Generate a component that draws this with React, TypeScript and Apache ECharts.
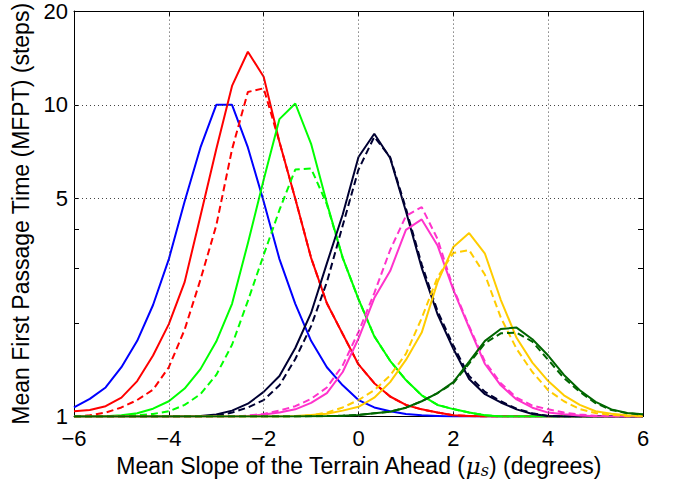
import React, { useEffect, useRef } from "react";
import * as echarts from "echarts";

const xs = [-6, -5.667, -5.333, -5, -4.667, -4.333, -4, -3.667, -3.333, -3, -2.667, -2.333, -2, -1.667, -1.333, -1, -0.667, -0.333, 0, 0.333, 0.667, 1, 1.333, 1.667, 2, 2.333, 2.667, 3, 3.333, 3.667, 4, 4.333, 4.667, 5, 5.333, 5.667, 6];

const blueSolid = [1.07, 1.14, 1.24, 1.44, 1.75, 2.28, 3.2, 4.9, 7.3, 10, 10, 7.3, 4.9, 3.2, 2.3, 1.75, 1.44, 1.26, 1.13, 1.07, 1.04, 1.02, 1.01, 1.005, 1, 1, 1, 1, 1, 1, 1, 1, 1, 1, 1, 1, 1];
const redSolid = [1.04, 1.05, 1.08, 1.15, 1.3, 1.57, 1.98, 2.7, 4.4, 7.2, 11.5, 14.8, 12.3, 7.6, 5.0, 3.23, 2.31, 1.84, 1.47, 1.28, 1.16, 1.09, 1.055, 1.03, 1.01, 1.005, 1, 1, 1, 1, 1, 1, 1, 1, 1, 1, 1];
const redDashed = [1.0, 1.01, 1.03, 1.07, 1.13, 1.22, 1.44, 1.9, 2.75, 4.1, 7.2, 11.0, 11.3, 7.6, 5.0, 3.23, 2.31, 1.84, 1.47, 1.28, 1.16, 1.09, 1.055, 1.03, 1.01, 1.005, 1, 1, 1, 1, 1, 1, 1, 1, 1, 1, 1];
const greenSolid = [1, 1, 1.003, 1.01, 1.025, 1.06, 1.12, 1.23, 1.42, 1.74, 2.3, 3.6, 5.75, 9.0, 10.1, 7.5, 4.84, 3.23, 2.38, 1.81, 1.51, 1.31, 1.17, 1.09, 1.057, 1.03, 1.01, 1, 1, 1, 1, 1, 1, 1, 1, 1, 1];
const greenDashed = [1, 1, 1, 1.005, 1.01, 1.02, 1.04, 1.09, 1.18, 1.36, 1.7, 2.35, 3.3, 4.6, 6.2, 6.25, 4.8, 3.23, 2.38, 1.81, 1.51, 1.31, 1.17, 1.09, 1.057, 1.03, 1.01, 1, 1, 1, 1, 1, 1, 1, 1, 1, 1];
const navySolid = [1, 1, 1, 1, 1, 1, 1, 1.003, 1.005, 1.015, 1.045, 1.1, 1.2, 1.35, 1.66, 2.15, 3.1, 4.45, 6.8, 8.08, 6.75, 4.56, 3.0, 2.13, 1.65, 1.32, 1.18, 1.11, 1.055, 1.02, 1.005, 1, 1, 1, 1, 1, 1];
const navyDashed = [1, 1, 1, 1, 1, 1, 1, 1, 1.002, 1.005, 1.03, 1.07, 1.13, 1.26, 1.53, 1.95, 2.7, 4.1, 6.2, 7.9, 6.8, 4.65, 3.08, 2.18, 1.69, 1.35, 1.2, 1.12, 1.06, 1.025, 1.005, 1, 1, 1, 1, 1, 1];
const magentaSolid = [1, 1, 1, 1, 1, 1, 1, 1, 1, 1, 1, 1.005, 1.015, 1.03, 1.055, 1.107, 1.19, 1.39, 1.78, 2.4, 2.93, 3.97, 4.29, 3.54, 2.55, 1.93, 1.475, 1.26, 1.135, 1.068, 1.03, 1.017, 1.008, 1.003, 1, 1, 1];
const magentaDashed = [1, 1, 1, 1, 1, 1, 1, 1, 1, 1, 1, 1.008, 1.02, 1.045, 1.08, 1.14, 1.24, 1.46, 1.87, 2.49, 3.42, 4.4, 4.7, 3.71, 2.58, 1.95, 1.5, 1.28, 1.15, 1.085, 1.055, 1.03, 1.015, 1.006, 1.002, 1, 1];
const yellowSolid = [1, 1, 1, 1, 1, 1, 1, 1, 1, 1, 1, 1, 1, 1, 1.005, 1.012, 1.022, 1.045, 1.075, 1.15, 1.29, 1.52, 1.86, 2.7, 3.5, 3.88, 3.33, 2.37, 1.79, 1.49, 1.3, 1.17, 1.09, 1.04, 1.022, 1.01, 1.003];
const yellowDashed = [1, 1, 1, 1, 1, 1, 1, 1, 1, 1, 1, 1, 1, 1, 1, 1.01, 1.03, 1.07, 1.13, 1.215, 1.355, 1.59, 2.07, 2.8, 3.35, 3.42, 2.85, 2.08, 1.65, 1.39, 1.215, 1.12, 1.057, 1.027, 1.012, 1.005, 1];
const darkGreenSolid = [1, 1, 1, 1, 1, 1, 1, 1, 1, 1, 1, 1, 1, 1, 1, 1.002, 1.004, 1.007, 1.012, 1.025, 1.037, 1.068, 1.12, 1.19, 1.29, 1.5, 1.75, 1.91, 1.93, 1.77, 1.57, 1.36, 1.215, 1.115, 1.055, 1.027, 1.017];
const darkGreenDashed = [1, 1, 1, 1, 1, 1, 1, 1, 1, 1, 1, 1, 1, 1, 1, 1.002, 1.004, 1.007, 1.012, 1.025, 1.037, 1.068, 1.12, 1.19, 1.28, 1.48, 1.72, 1.85, 1.86, 1.74, 1.52, 1.33, 1.2, 1.105, 1.05, 1.025, 1.015];

const xGrid = [-4, -2, 0, 2, 4];
const yLabelValues = [1, 5, 10, 20];
const yTickValues = [1, 2, 3, 4, 5, 10, 20];
const yGrid = [5, 10];

const FONT = "'Liberation Sans', Arial, Helvetica, sans-serif";

function line(name: string, ys: number[], color: string, dashed: boolean) {
  return {
    name,
    type: "line",
    data: xs.map((x, i) => [x, ys[i]]),
    showSymbol: false,
    symbol: "none",
    lineStyle: { width: 2, color, type: dashed ? [7, 4] : "solid" },
    itemStyle: { color },
    silent: true,
    z: 3,
  };
}

export default function App() {
  const ref = useRef<HTMLDivElement>(null);
  useEffect(() => {
    if (!ref.current) return;
    const chart = echarts.init(ref.current, null, { renderer: "svg" });
    const fmt = (v: number) => (v < 0 ? "\u2212" + Math.abs(v) : String(v));
    const axisLine = { show: true, onZero: false, lineStyle: { color: "#000", width: 1 } };
    const xTick = { show: true, inside: true, length: 5, lineStyle: { color: "#000" } };
    const yTick = { show: true, inside: true, length: 5, lineStyle: { color: "#000" }, customValues: yTickValues };
    chart.setOption({
      animation: false,
      backgroundColor: "#fff",
      grid: { left: 74, right: 34, top: 11, bottom: 61, containLabel: false },
      xAxis: [
        {
          type: "value",
          min: -6,
          max: 6,
          interval: 2,
          position: "bottom",
          axisLine,
          axisTick: xTick,
          splitLine: { show: false },
          axisLabel: { fontSize: 22, lineHeight: 22, color: "#000", fontFamily: FONT, margin: 11, formatter: fmt },
          name: "Mean Slope of the Terrain Ahead ({mu|μ}{sub|s}) (degrees)",
          nameLocation: "middle",
          nameGap: 30,
          nameTextStyle: {
            fontSize: 23,
            color: "#000",
            fontFamily: FONT,
            rich: {
              mu: { fontSize: 23, fontStyle: "italic", fontFamily: "'DejaVu Serif', serif", color: "#000" },
              sub: { fontSize: 16, fontStyle: "italic", fontFamily: "'DejaVu Serif', serif", color: "#000", verticalAlign: "bottom", padding: [8, 0, 0, 0] },
            },
          },
        },
        {
          type: "value",
          min: -6,
          max: 6,
          interval: 2,
          position: "top",
          axisLine,
          axisTick: xTick,
          splitLine: { show: false },
          axisLabel: { show: false },
        },
      ],
      yAxis: [
        {
          type: "log",
          logBase: 10,
          min: 1,
          max: 20,
          position: "left",
          axisLine,
          axisTick: yTick,
          splitLine: { show: false },
          axisLabel: { fontSize: 22, lineHeight: 22, color: "#000", fontFamily: FONT, margin: 6, customValues: yLabelValues },
          minorTick: { show: false },
          name: "Mean First Passage Time (MFPT) (steps)",
          nameLocation: "middle",
          nameGap: 40,
          nameTextStyle: { fontSize: 23, color: "#000", fontFamily: FONT },
        },
        {
          type: "log",
          logBase: 10,
          min: 1,
          max: 20,
          position: "right",
          axisLine,
          axisTick: yTick,
          splitLine: { show: false },
          axisLabel: { show: false },
          minorTick: { show: false },
        },
      ],
      series: [
        {
          name: "grid",
          type: "line",
          data: [],
          silent: true,
          z: 1,
          markLine: {
            silent: true,
            symbol: ["none", "none"],
            label: { show: false },
            lineStyle: { type: [1, 3], color: "#444", width: 1 },
            data: [...yGrid.map((v) => ({ yAxis: v })), ...xGrid.map((v) => ({ xAxis: v }))],
          },
        },
        line("blue", blueSolid, "#0000ff", false),
        line("red", redSolid, "#ff0000", false),
        line("red dashed", redDashed, "#ff0000", true),
        line("green", greenSolid, "#00ff00", false),
        line("green dashed", greenDashed, "#00ff00", true),
        line("navy", navySolid, "#000033", false),
        line("navy dashed", navyDashed, "#000033", true),
        line("magenta", magentaSolid, "#ff33cc", false),
        line("magenta dashed", magentaDashed, "#ff33cc", true),
        line("yellow", yellowSolid, "#ffcc00", false),
        line("yellow dashed", yellowDashed, "#ffcc00", true),
        line("dark green", darkGreenSolid, "#006600", false),
        line("dark green dashed", darkGreenDashed, "#006600", true),
      ],
    });
    return () => chart.dispose();
  }, []);
  return <div ref={ref} style={{ position: "absolute", left: 0, top: 0, width: 677, height: 483 }} />;
}
